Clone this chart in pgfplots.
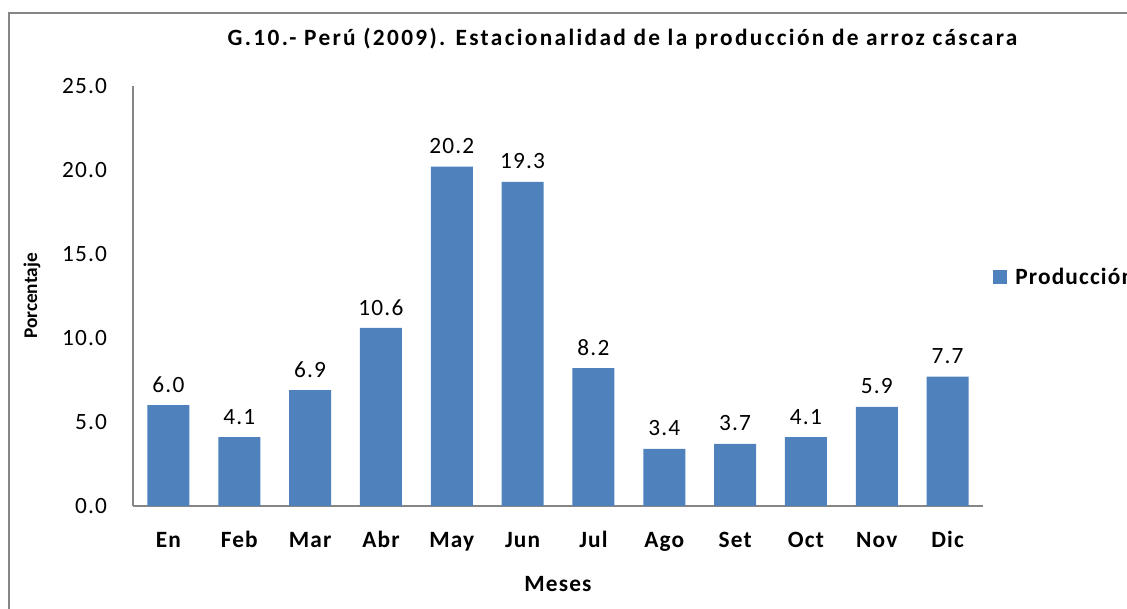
\documentclass[border=0pt]{standalone}
\usepackage{pgfplots}
\pgfplotsset{compat=1.18}
\usepackage{fontspec}
\setmainfont{Carlito}[LetterSpace=5]
\definecolor{barblue}{HTML}{4F81BD}
\definecolor{axgray}{HTML}{868686}
\begin{document}
\begin{tikzpicture}[x=0.75pt,y=0.75pt]
\path[use as bounding box] (0,0) rectangle (1127,609);
\draw[axgray, line width=1.5pt] (9,-10) -- (9,596) -- (1140,596);
\begin{axis}[
  at={(99.75pt,77.25pt)}, anchor=south west,
  scale only axis, width=637.5pt, height=315pt,
  xmin=-0.5, xmax=11.5, ymin=0, ymax=25,
  ytick={0,5,10,15,20,25},
  xtick={0,...,11},
  xticklabels={En,Feb,Mar,Abr,May,Jun,Jul,Ago,Set,Oct,Nov,Dic},
  axis x line=bottom, axis y line=left,
  axis line style={draw=axgray, line width=1pt, -},
  major tick length=0pt,
  /pgf/number format/assume math mode=true,
  /pgf/number format/fixed, /pgf/number format/fixed zerofill, /pgf/number format/precision=1,
  yticklabel style={font=\fontsize{17.5}{19}\selectfont, xshift=-16pt},
  xticklabel style={font=\fontsize{17.5}{19}\selectfont\bfseries, anchor=base, yshift=-31.5pt},
  ylabel={Porcentaje}, xlabel={Meses},
  ylabel style={font=\fontsize{14.5}{16}\selectfont\bfseries\addfontfeature{LetterSpace=0}, at={(axis description cs:0,0.5)}, anchor=center, yshift=75.75pt},
  xlabel style={font=\fontsize{17.5}{19}\selectfont\bfseries, at={(axis description cs:0.5,0)}, anchor=base, yshift=-64.5pt},
  ybar, bar width=31.5pt,
  nodes near coords,
  nodes near coords style={font=\fontsize{17.5}{19}\selectfont, yshift=6pt},
  legend style={at={(axis description cs:1.0118,0.545)}, anchor=west, draw=none, fill=none, inner sep=0pt, column sep=4pt, font=\fontsize{17.5}{19}\selectfont\bfseries},
  legend image code/.code={\fill[#1] (0pt,-5.25pt) rectangle (10.5pt,5.25pt);},
]
\addplot[fill=barblue, draw=none] coordinates {
(0,6.0) (1,4.1) (2,6.9) (3,10.6) (4,20.2) (5,19.3) (6,8.2) (7,3.4) (8,3.7) (9,4.1) (10,5.9) (11,7.7)};
\addlegendentry{Producción}
\end{axis}
\node[font=\fontsize{17.5}{20}\selectfont\bfseries\addfontfeature{LetterSpace=10}, anchor=base] at (622.5,563) {G.10.- Perú (2009). Estacionalidad de la producción de arroz cáscara};
\end{tikzpicture}
\end{document}
